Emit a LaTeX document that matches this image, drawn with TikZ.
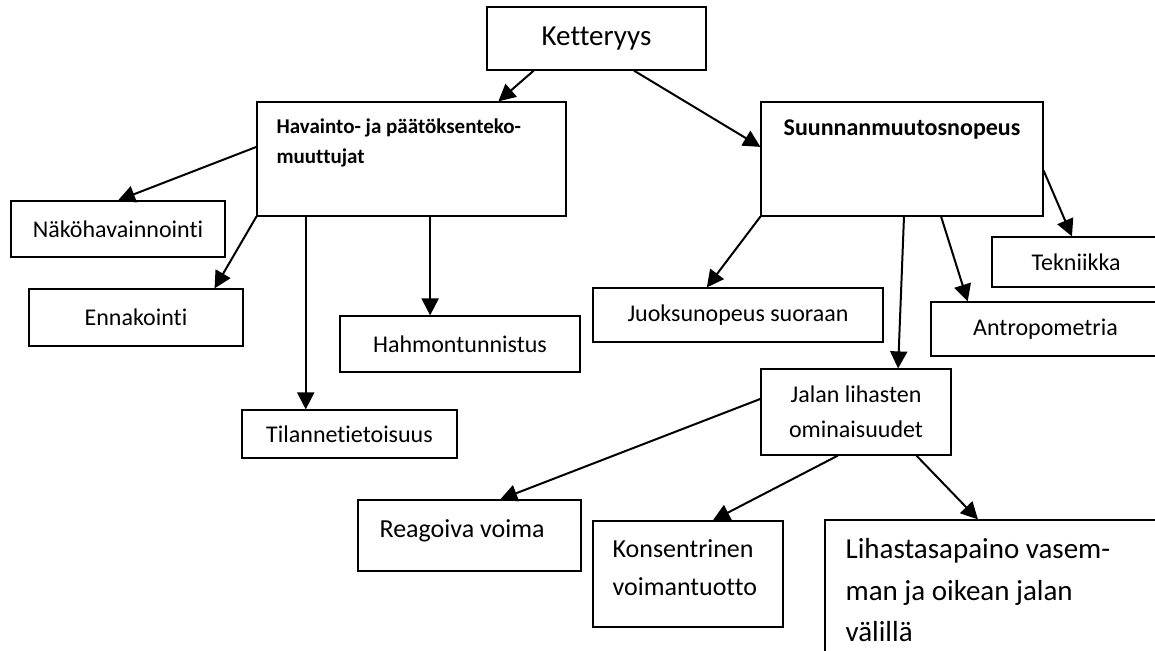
\documentclass[tikz,border=0pt]{standalone}
\usepackage{fontspec}
\setmainfont{Carlito}[Ligatures=NoCommon]
\usetikzlibrary{arrows.meta,calc}

\tikzset{
  kbox/.style={draw, line width=1.2pt, inner sep=0pt, align=center,
    font=\fontsize{24}{35}\selectfont},
  ktext/.style={inner sep=0pt, align=left, anchor=north west},
  arr/.style={line width=2pt, -{Triangle[length=17pt,width=17pt]}},
}

\begin{document}
\begin{tikzpicture}[x=1pt, y=-1pt]
\useasboundingbox (0,0) rectangle (1155,650);
\clip (0,0) rectangle (1155,650);

% boxes
\node[kbox, minimum width=219pt, minimum height=63pt, font=\fontsize{29}{35}\selectfont] (ket) at (596.5,38.5) {Ketteryys};
\node[kbox, minimum width=309pt, minimum height=114pt,
  label={[ktext, xshift=20pt, yshift=-17pt, font=\fontsize{21}{30}\selectfont\bfseries]north west:Havainto- ja päätöksenteko-\\muuttujat}] (hav) at (411.5,159) {};
\node[kbox, minimum width=282pt, minimum height=114pt,
  label={[ktext, anchor=north, yshift=-18pt, font=\fontsize{24}{30}\selectfont\bfseries]north:Suunnanmuutosnopeus}] (suu) at (902,159) {};
\node[kbox, minimum width=214pt, minimum height=56pt] (nako) at (118,229) {Näköhavainnointi};
\node[kbox, minimum width=214pt, minimum height=57pt] (enn) at (136,317.5) {Ennakointi};
\node[kbox, minimum width=240pt, minimum height=56pt] (hahmo) at (460,344) {Hahmontunnistus};
\node[kbox, minimum width=215pt, minimum height=48pt] (tila) at (349.5,434) {Tilannetietoisuus};
\node[kbox, minimum width=290pt, minimum height=54pt] (juoksu) at (738,315) {Juoksunopeus suoraan};
\node[kbox, minimum width=168pt, minimum height=50pt] (tek) at (1076,262) {Tekniikka};
\node[kbox, minimum width=229pt, minimum height=54pt] (antro) at (1045.5,329) {Antropometria};
\node[kbox, minimum width=190pt, minimum height=86pt] (jalan) at (856,412) {Jalan lihasten\\ominaisuudet};
\node[kbox, minimum width=223pt, minimum height=71pt,
  label={[ktext, xshift=22pt, yshift=-20pt, font=\fontsize{26}{38}\selectfont]north west:Reagoiva voima}] (reag) at (469.5,535.5) {};
\node[kbox, minimum width=190pt, minimum height=106pt,
  label={[ktext, xshift=20pt, yshift=-19pt, font=\fontsize{26}{38}\selectfont]north west:Konsentrinen\\voimantuotto}] (kons) at (688,574) {};
\node[kbox, minimum width=340pt, minimum height=150pt,
  label={[ktext, xshift=21pt, yshift=-19pt, font=\fontsize{29}{41.5}\selectfont]north west:Lihastasapaino vasem-\\man ja oikean jalan\\välillä}] (lihas) at (995,595) {};

% arrows
\draw[arr] ($(ket.south west)!.215!(ket.south east)$) -- ($(hav.north west)!.78!(hav.north east)$);
\draw[arr] ($(ket.south west)!.67!(ket.south east)$) -- ($(suu.north west)!.395!(suu.south west)$);
\draw[arr] ($(hav.north west)!.395!(hav.south west)$) -- (nako.north);
\draw[arr] (hav.south west) -- ($(enn.north west)!.865!(enn.north east)$);
\draw[arr] ($(hav.south west)!.159!(hav.south east)$) coordinate (h1) -- (h1 |- tila.north);
\draw[arr] ($(hav.south west)!.56!(hav.south east)$) coordinate (h2) -- (h2 |- hahmo.north);
\draw[arr] (suu.south west) -- ($(juoksu.north west)!.393!(juoksu.north east)$);
\draw[arr] ($(suu.south west)!.507!(suu.south east)$) -- ($(jalan.north west)!.72!(jalan.north east)$);
\draw[arr] ($(suu.south west)!.638!(suu.south east)$) -- ($(antro.north west)!.162!(antro.north east)$);
\draw[arr] ($(suu.north east)!.6!(suu.south east)$) -- ($(tek.north west)!.476!(tek.north east)$);
\draw[arr] ($(jalan.north west)!.35!(jalan.south west)$) -- ($(reag.north west)!.637!(reag.north east)$);
\draw[arr] ($(jalan.south west)!.405!(jalan.south east)$) -- ($(kons.north west)!.63!(kons.north east)$);
\draw[arr] ($(jalan.south west)!.816!(jalan.south east)$) -- ($(lihas.north west)!.45!(lihas.north east)$);

\end{tikzpicture}
\end{document}
